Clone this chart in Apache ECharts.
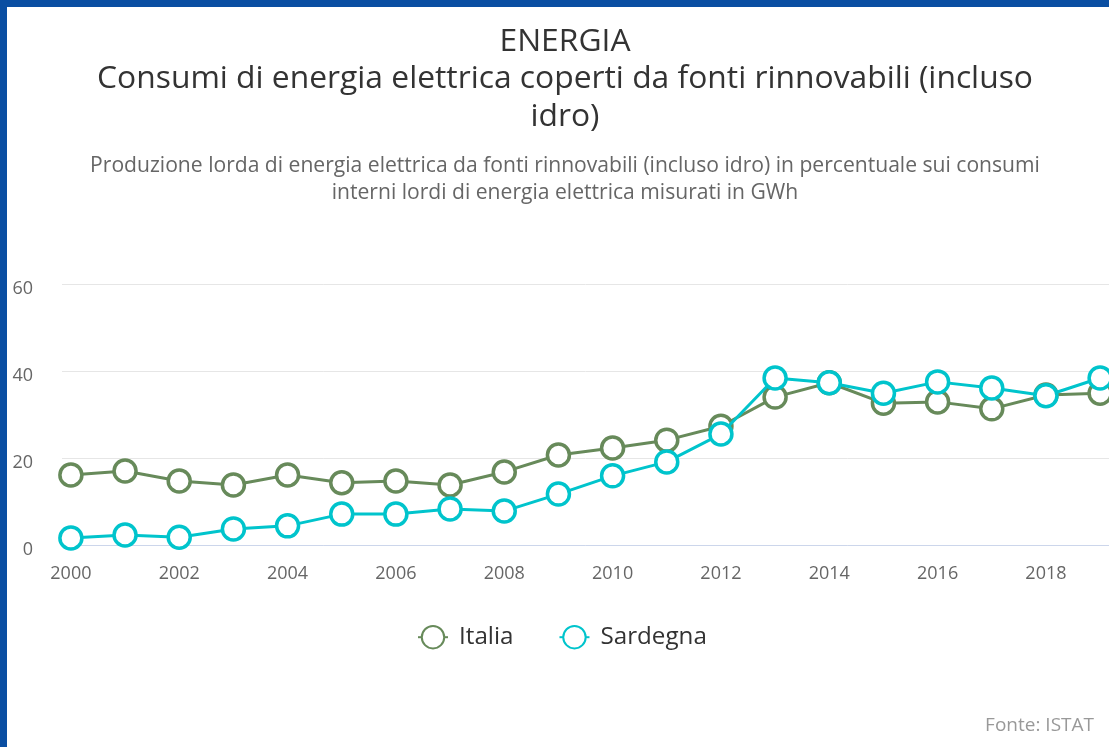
<!DOCTYPE html>
<html>
<head>
<meta charset="utf-8">
<script src="https://cdn.jsdelivr.net/npm/echarts@6/dist/echarts.min.js"></script>
<style>
html,body{margin:0;padding:0;background:#fff;}
#chart{width:1109px;height:747px;}
</style>
</head>
<body>
<div id="chart"></div>
<script>
// ---- data ----
var years = [2000,2001,2002,2003,2004,2005,2006,2007,2008,2009,2010,2011,2012,2013,2014,2015,2016,2017,2018,2019];
var italia = [16.1,17.0,14.7,13.8,16.1,14.3,14.7,13.8,16.8,20.7,22.3,24.1,27.3,34.0,37.3,32.6,32.9,31.3,34.5,34.9];
var sardegna = [1.6,2.3,1.8,3.7,4.4,7.1,7.1,8.3,7.8,11.7,15.9,19.1,25.5,38.4,37.3,34.9,37.5,36.1,34.3,38.4];
var xTickLabels = [2000,2002,2004,2006,2008,2010,2012,2014,2016,2018];
var seriesNames = ['Italia','Sardegna'];
var titleText = 'ENERGIA\nConsumi di energia elettrica coperti da fonti rinnovabili (incluso\nidro)';
var subtitleText = 'Produzione lorda di energia elettrica da fonti rinnovabili (incluso idro) in percentuale sui consumi\ninterni lordi di energia elettrica misurati in GWh';
var creditText = 'Fonte: ISTAT';

var FONT = '"Open Sans", "Noto Sans", sans-serif';
var colors = ['#678a5a', '#00c4cc'];

function pairs(vals){ return years.map(function(y,i){ return [y, vals[i]]; }); }

var chart = echarts.init(document.getElementById('chart'), null, {renderer:'canvas'});
var option = {
  animation: false,
  backgroundColor: '#ffffff',
  color: colors,
  textStyle: {fontFamily: FONT},
  title: [
    {
      text: titleText,
      left: 560, top: 18, textAlign: 'center',
      textStyle: {fontFamily: FONT, fontSize: 31.8, fontWeight: 'normal', color: '#333333', lineHeight: 37.5, align: 'center'}
    },
    {
      text: subtitleText,
      left: 560, top: 147, textAlign: 'center',
      textStyle: {fontFamily: FONT, fontSize: 21.1, fontWeight: 'normal', color: '#666666', lineHeight: 27, align: 'center'}
    },
    {
      text: creditText,
      right: 10, top: 711,
      textStyle: {fontFamily: FONT, fontSize: 19, fontWeight: 'normal', color: '#999999'}
    }
  ],
  legend: {
    data: seriesNames,
    left: 412, top: 620,
    itemWidth: 30, itemHeight: 28, itemGap: 45,
    textStyle: {fontFamily: FONT, fontSize: 24.2, color: '#333333', padding: [0,0,0,6]}
  },
  grid: {left: 62, top: 284, width: 1060, height: 261},
  xAxis: {
    type: 'value',
    min: 1999.836, max: 2019.164,
    axisLine: {show: true, lineStyle: {color: '#ccd6eb', width: 1}},
    axisTick: {show: false},
    splitLine: {show: false},
    axisLabel: {
      customValues: xTickLabels,
      margin: 20,
      fontFamily: FONT, fontSize: 18, color: '#666666',
      formatter: function(v){ return String(v); }
    }
  },
  yAxis: {
    type: 'value',
    min: 0, max: 60, interval: 20,
    axisLine: {show: false},
    axisTick: {show: false},
    splitLine: {lineStyle: {color: '#e6e6e6', width: 1}},
    axisLabel: {
      margin: 29, color: '#666666',
      formatter: '{v|{value}}',
      rich: {v: {fontFamily: FONT, fontSize: 18, color: '#666666', padding: [9,0,0,0]}}
    }
  },
  series: [
    {
      name: seriesNames[0], type: 'line', data: pairs(italia),
      symbol: 'circle', symbolSize: 22,
      lineStyle: {width: 3, color: colors[0]},
      itemStyle: {color: '#ffffff', borderColor: colors[0], borderWidth: 3.5},
      z: 2
    },
    {
      name: seriesNames[1], type: 'line', data: pairs(sardegna),
      symbol: 'circle', symbolSize: 22,
      lineStyle: {width: 3, color: colors[1]},
      itemStyle: {color: '#ffffff', borderColor: colors[1], borderWidth: 3.5},
      z: 3
    }
  ],
  graphic: [
    {type: 'rect', left: 0, top: 0, shape: {width: 7, height: 747}, style: {fill: '#0a4ea2'}, z: 100},
    {type: 'rect', left: 0, top: 0, shape: {width: 1109, height: 7}, style: {fill: '#0a4ea2'}, z: 100}
  ]
};
chart.setOption(option);
</script>
</body>
</html>
